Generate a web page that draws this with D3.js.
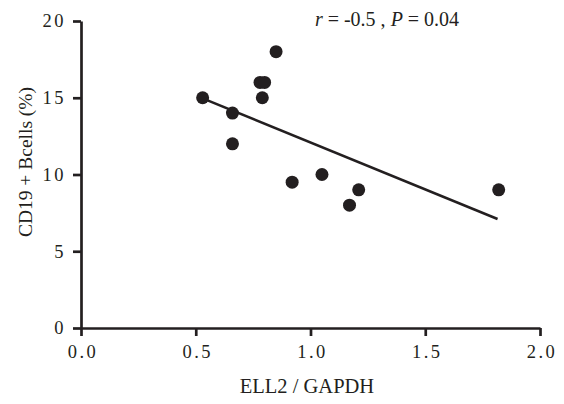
<!DOCTYPE html>
<html>
<head>
<meta charset="utf-8">
<script src="https://cdn.jsdelivr.net/npm/d3@7"></script>
<style>
  body { margin: 0; background: #fff; }
  text { font-family: "Liberation Serif", "DejaVu Serif", serif; fill: #231f20; }
</style>
</head>
<body>
<div id="chart"></div>
<script>
// chart values
const ell2 = [0.53, 0.66, 0.66, 0.78, 0.80, 0.79, 0.85, 0.92, 1.05, 1.17, 1.21, 1.82];
const bcells = [15, 14, 12, 16, 16, 15, 18, 9.5, 10, 8, 9, 9];
const fitX = [0.53, 1.815];
const fitY = [14.96, 7.1];
const xTicks = [0, 0.5, 1.0, 1.5, 2.0];
const yTicks = [0, 5, 10, 15, 20];

const width = 564;
const height = 404;
const margin = {left: 81, right: 24, top: 21, bottom: 76};
const ink = "#231f20";

const svg = d3.select("#chart")
  .append("svg")
  .attr("width", width)
  .attr("height", height);

const x = d3.scaleLinear()
  .domain([0, 2])
  .range([margin.left, width - margin.right]);

const y = d3.scaleLinear()
  .domain([0, 20])
  .range([height - margin.bottom, margin.top]);

// x axis
const xAxis = svg.append("g")
  .attr("transform", `translate(0,${height - margin.bottom})`)
  .call(d3.axisBottom(x).tickValues(xTicks).tickFormat(d3.format(".1f"))
    .tickSize(8).tickPadding(9).tickSizeOuter(0));

// y axis
const yAxis = svg.append("g")
  .attr("transform", `translate(${margin.left},0)`)
  .call(d3.axisLeft(y).tickValues(yTicks).tickSize(8).tickPadding(7).tickSizeOuter(0));

[xAxis, yAxis].forEach(g => {
  g.select(".domain").attr("stroke", ink).attr("stroke-width", 2.7);
  g.selectAll(".tick line").attr("stroke", ink).attr("stroke-width", 2.7);
  g.selectAll(".tick text")
    .attr("font-size", "18.5px")
    .attr("letter-spacing", "2.5px")
    .attr("fill", ink);
});
xAxis.selectAll(".tick text").attr("dx", "1.5px");

// regression line
svg.append("line")
  .attr("x1", x(fitX[0])).attr("y1", y(fitY[0]))
  .attr("x2", x(fitX[1])).attr("y2", y(fitY[1]))
  .attr("stroke", ink)
  .attr("stroke-width", 2.5);

// points
svg.selectAll(".dot")
  .data(ell2)
  .enter()
  .append("circle")
    .attr("class", "dot")
    .attr("cx", d => x(d))
    .attr("cy", (d, i) => y(bcells[i]))
    .attr("r", 6.5)
    .attr("fill", ink);

// axis titles
svg.append("text")
  .attr("x", 307)
  .attr("y", 393)
  .attr("text-anchor", "middle")
  .attr("font-size", "20.5px")
  .text("ELL2 / GAPDH");

svg.append("text")
  .attr("transform", "translate(32,162) rotate(-90)")
  .attr("text-anchor", "middle")
  .attr("font-size", "19.5px")
  .text("CD19 + Bcells (%)");

// correlation note
const note = svg.append("text")
  .attr("x", 387)
  .attr("y", 26)
  .attr("text-anchor", "middle")
  .attr("font-size", "20px");
note.append("tspan").attr("font-style", "italic").text("r");
note.append("tspan").text(" = -0.5 , ");
note.append("tspan").attr("font-style", "italic").text("P");
note.append("tspan").text(" = 0.04");
</script>
</body>
</html>
